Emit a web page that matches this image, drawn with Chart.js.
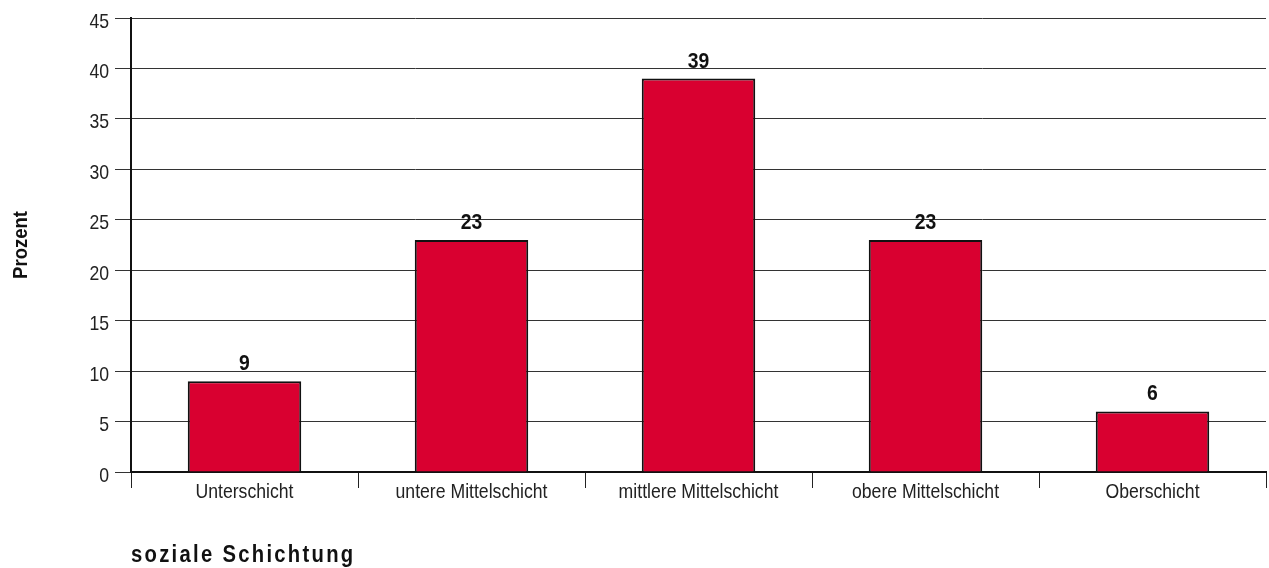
<!DOCTYPE html>
<html>
<head>
    <title>Soziale Schichtung</title>
    <style>
        body { margin: 0; background: #fff; }
    </style>
</head>
<body>
    <canvas id="schichtChart" width="1269" height="568"></canvas>

    <script src="https://cdn.jsdelivr.net/npm/chart.js"></script>
    <script>
        // Categories and percentages
        const categories = ['Unterschicht', 'untere Mittelschicht', 'mittlere Mittelschicht', 'obere Mittelschicht', 'Oberschicht'];
        const percentages = [9, 23, 39, 23, 6];
        const yTicks = [0, 5, 10, 15, 20, 25, 30, 35, 40, 45];

        const fontFamily = '"Liberation Sans", Arial, sans-serif';

        // Helvetica Condensed look: squeeze the text horizontally
        function drawNarrow(ctx, text, x, y, align, font, squeeze) {
            ctx.save();
            ctx.translate(x, y);
            ctx.scale(squeeze, 1);
            ctx.font = font;
            ctx.textAlign = align;
            ctx.textBaseline = 'alphabetic';
            ctx.fillText(text, 0, 0);
            ctx.restore();
        }

        // Tick labels, value labels above the bars and the two axis titles
        const labelsPlugin = {
            id: 'labelsPlugin',
            afterDraw(chart) {
                const ctx = chart.ctx;
                const xs = chart.scales.x;
                const ys = chart.scales.y;
                const tickFont = '21px ' + fontFamily;

                ctx.save();
                ctx.fillStyle = '#222';
                categories.forEach((c, i) => {
                    drawNarrow(ctx, c, xs.getPixelForTick(i), 498, 'center', tickFont, 0.84);
                });
                yTicks.forEach(v => {
                    drawNarrow(ctx, String(v), 109, ys.getPixelForValue(v) + 9.5, 'right', tickFont, 0.84);
                });

                ctx.fillStyle = '#111';
                const meta = chart.getDatasetMeta(0);
                meta.data.forEach((bar, i) => {
                    drawNarrow(ctx, String(percentages[i]), bar.x, bar.y - 11, 'center', 'bold 22px ' + fontFamily, 0.88);
                });

                // y axis title
                ctx.save();
                ctx.translate(26.5, 245);
                ctx.rotate(-Math.PI / 2);
                drawNarrow(ctx, 'Prozent', 0, 0, 'center', 'bold 21px ' + fontFamily, 0.88);
                ctx.restore();

                // x axis title
                ctx.save();
                ctx.letterSpacing = '2.6px';
                drawNarrow(ctx, 'soziale Schichtung', chart.chartArea.left, 562, 'left', 'bold 23px ' + fontFamily, 0.88);
                ctx.restore();
                ctx.restore();
            }
        };

        const ctx = document.getElementById('schichtChart').getContext('2d');
        const schichtChart = new Chart(ctx, {
            type: 'bar',
            data: {
                labels: categories,
                datasets: [{
                    data: percentages,
                    backgroundColor: '#d90030',
                    borderColor: '#111',
                    borderWidth: 2,
                    borderSkipped: 'bottom',
                    barPercentage: 0.5,
                    categoryPercentage: 1
                }]
            },
            options: {
                responsive: false,
                animation: false,
                layout: {
                    padding: { top: 18, right: 3, bottom: 46, left: 0 }
                },
                plugins: {
                    legend: { display: false },
                    tooltip: { enabled: false }
                },
                scales: {
                    x: {
                        grid: {
                            display: true,
                            offset: true,
                            drawOnChartArea: false,
                            drawTicks: true,
                            tickLength: 16,
                            color: '#222',
                            lineWidth: 1
                        },
                        border: { color: '#111', width: 2 },
                        ticks: { display: false },
                        afterFit: scale => { scale.height = 50; }
                    },
                    y: {
                        min: 0,
                        max: 45,
                        afterBuildTicks: scale => {
                            scale.ticks = yTicks.map(v => ({ value: v }));
                        },
                        grid: {
                            color: '#333',
                            lineWidth: 1,
                            drawTicks: true,
                            tickLength: 16
                        },
                        border: { color: '#111', width: 2 },
                        ticks: { display: false },
                        afterFit: scale => { scale.width = 131; }
                    }
                }
            },
            plugins: [labelsPlugin]
        });
    </script>
</body>
</html>
